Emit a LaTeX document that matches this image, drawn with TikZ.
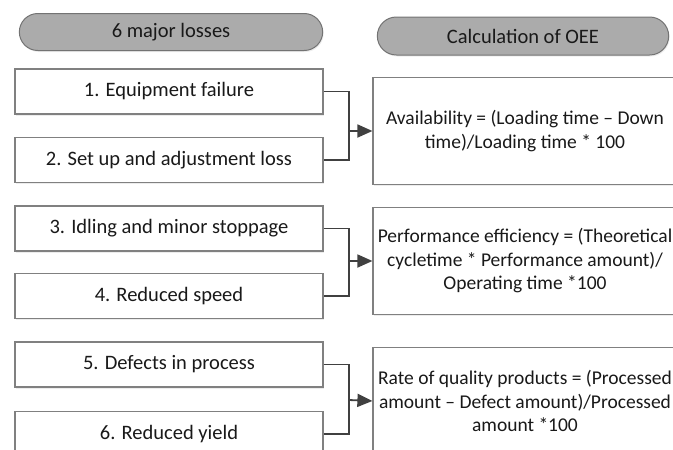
\documentclass[tikz,border=0pt]{standalone}
\usepackage{fontspec}
\setmainfont{Carlito}
\usepackage{tikz}
\usetikzlibrary{shapes.misc}
\usetikzlibrary{shadows}
\usetikzlibrary{arrows.meta}

\tikzset{
  pill/.style={rounded rectangle, draw=black!55, line width=1pt, fill=black!33,
    minimum width=298pt, minimum height=37pt, text=black!90,
    drop shadow={opacity=0.15, shadow xshift=1pt, shadow yshift=-1.5pt}},
  lossbox/.style={rectangle, draw=black!50, line width=1.2pt, fill=white,
    minimum width=308pt, minimum height=45pt, text=black!90,
    drop shadow={opacity=0.15, shadow xshift=1pt, shadow yshift=-1.5pt}},
  oeebox/.style={rectangle, draw=black!50, line width=1.2pt, fill=white,
    minimum width=304pt, minimum height=107pt, text=black!90, align=center,
    font=\fontsize{19.5}{23.5}\selectfont,
    drop shadow={opacity=0.15, shadow xshift=1pt, shadow yshift=-1.5pt}},
  link/.style={draw=black!75, line width=1.8pt},
  tip/.style={-{Triangle[length=15pt,width=13pt]}}
}

\begin{document}
\begin{tikzpicture}[x=1pt,y=-1pt,font=\fontsize{20.5}{24}\selectfont]
  \useasboundingbox (0,0) rectangle (673,450);
  \clip (0,0) rectangle (673,450);

  % headers
  \node[pill, minimum width=310pt] (hloss) at (171,32) {6 major losses};
  \node[pill, minimum height=38pt] (hoee) at (523,36) {Calculation of OEE};

  % the six losses
  \node[lossbox] (loss1) at (169,91.5) {1. Equipment failure};
  \node[lossbox] (loss2) at (169,160) {2. Set up and adjustment loss};
  \node[lossbox] (loss3) at (169,228.5) {3. Idling and minor stoppage};
  \node[lossbox] (loss4) at (169,296) {4. Reduced speed};
  \node[lossbox] (loss5) at (169,364.5) {5. Defects in process};
  \node[lossbox] (loss6) at (169,434) {6. Reduced yield};

  % OEE terms
  \node[oeebox] (avail) at (525,131)
    {Availability = (Loading time -- Down\\time)/Loading time * 100};
  \node[oeebox] (perf) at (525,261)
    {Performance efficiency = (Theoretical\\cycletime * Performance amount)/\\Operating time *100};
  \node[oeebox] (qual) at (525,401)
    {Rate of quality products = (Processed\\amount -- Defect amount)/Processed\\amount *100};

  % connectors
  \coordinate (jA) at (349,131);
  \coordinate (jB) at (349,261);
  \coordinate (jC) at (349,400);
  \draw[link] (loss1.east) -| (jA) |- (loss2.east);
  \draw[link] (loss3.east) -| (jB) |- (loss4.east);
  \draw[link] (loss5.east) -| (jC) |- (loss6.east);
  \draw[link,tip] (jA) -- (avail.west);
  \draw[link,tip] (jB) -- (perf.west);
  \draw[link,tip] (jC) -- (qual.west);
\end{tikzpicture}
\end{document}
